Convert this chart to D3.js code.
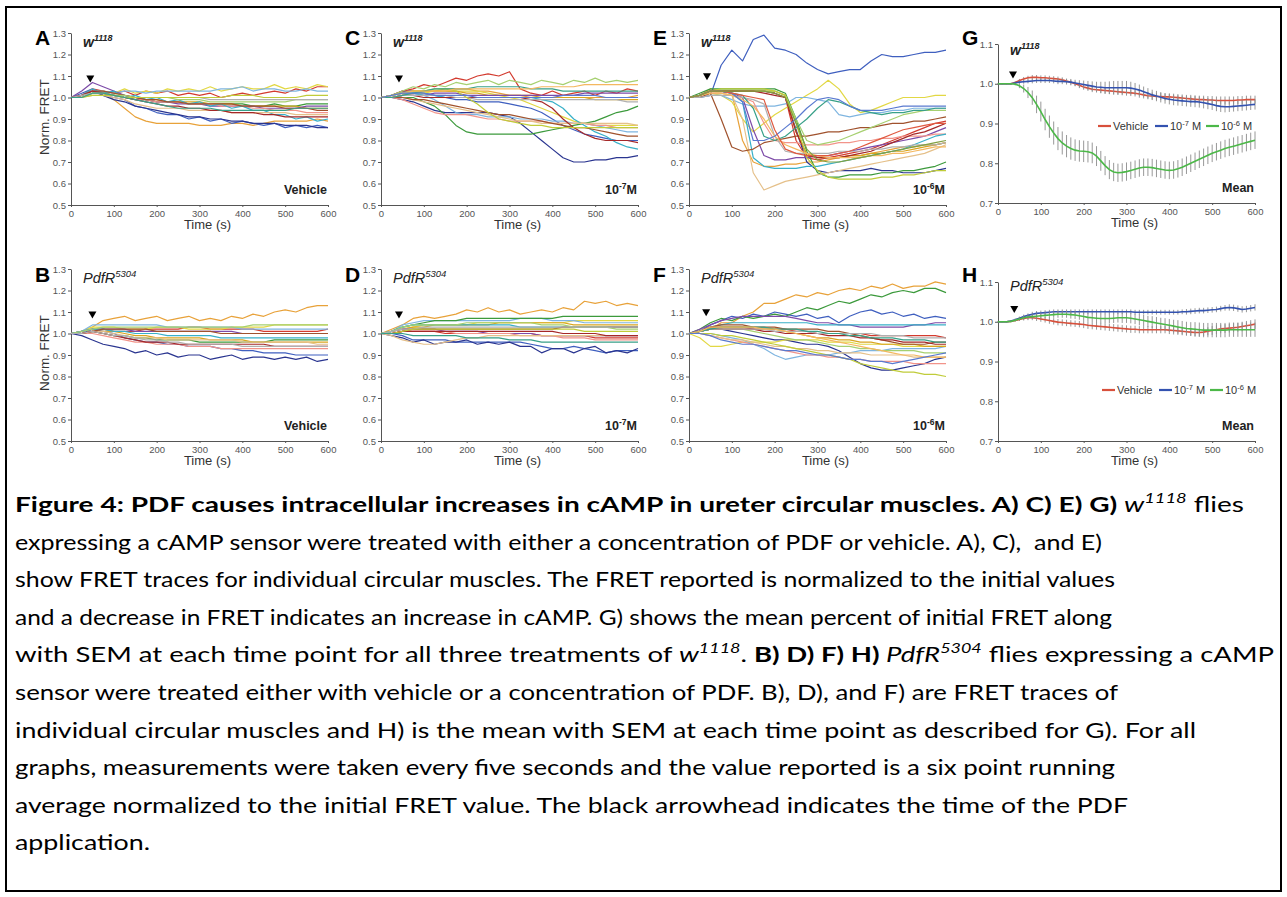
<!DOCTYPE html>
<html>
<head>
<meta charset="utf-8">
<script src="https://cdn.jsdelivr.net/npm/d3@7"></script>
<style>
  body { margin: 0; background: #fff; }
  svg text { font-family: "Liberation Sans", Arial, sans-serif; }
  .cap text { font-family: Lato, "Open Sans", sans-serif; white-space: pre; }
  .ax path, .ax line { stroke: #555; }
  .ax text { fill: #555; font-size: 9.5px; }
</style>
</head>
<body>
<svg id="fig" width="1287" height="897"></svg>
<script>
// sample times (s) of the individual traces and of the mean curves
var traceTimes = d3.range(0, 601, 25);
var meanTimes = d3.range(0, 601, 10);
var xTicks = [0, 100, 200, 300, 400, 500, 600];
var yTicksTrace = [0.5, 0.6, 0.7, 0.8, 0.9, 1.0, 1.1, 1.2, 1.3];
var yTicksMean = [0.7, 0.8, 0.9, 1.0, 1.1];

// individual traces, norm. FRET x100 (w1118, vehicle)
var tracesA = [
  [100,101,103,102,99,95,91,89,88,88,88,88,87,87,87,88,88,87,88,89,89,89,89,90,89],
  [100,102,104,101,100,99,96,95,93,92,92,90,91,89,90,88,89,88,87,88,86,87,86,87,86],
  [100,101,103,101,99,98,96,95,94,93,92,91,91,90,90,89,89,88,88,88,87,87,87,86,86],
  [100,101,104,103,102,103,101,103,102,103,101,102,101,102,100,101,102,101,102,103,102,104,103,105,105],
  [100,100,102,103,102,104,102,103,102,104,103,104,103,105,103,104,105,104,104,106,104,105,104,106,105],
  [100,101,103,103,102,103,103,102,103,103,103,103,103,103,104,104,105,103,104,104,103,103,104,103,103],
  [100,100,102,102,101,100,99,99,98,98,98,97,97,97,97,97,97,96,96,97,96,96,97,97,97],
  [100,100,102,102,101,101,100,99,99,98,98,98,98,97,97,97,96,96,96,96,96,96,95,95,95],
  [100,103,107,105,103,101,100,99,98,98,97,97,97,96,96,96,96,96,95,95,95,95,96,96,96],
  [100,101,103,102,101,100,99,99,98,98,98,97,97,97,96,96,96,95,95,94,94,94,93,93,93],
  [100,101,104,102,103,100,101,99,100,98,99,97,98,96,97,95,96,94,94,92,92,90,91,89,90],
  [100,100,101,101,100,99,97,96,95,95,95,94,94,94,94,93,93,93,93,93,93,92,92,92,92],
  [100,101,103,103,102,101,100,99,99,98,98,97,97,97,97,97,96,96,96,96,95,95,95,94,94],
  [100,100,102,102,101,101,100,100,100,100,99,99,99,98,98,98,98,98,98,98,98,99,99,99,99],
  [100,101,103,102,101,100,99,98,97,96,96,95,95,94,94,93,93,93,92,92,91,91,91,91,91],
  [100,101,102,102,101,100,100,100,100,100,100,100,100,99,99,99,99,99,99,99,99,99,99,99,99],
  [100,100,101,101,101,100,100,100,100,100,100,100,100,100,100,101,101,101,100,100,100,100,101,101,101],
  [100,100,102,102,101,100,99,98,97,96,95,95,95,95,94,94,94,94,94,94,94,95,95,95,95]
];

// w1118, 10^-7 M
var tracesC = [
  [100,101,103,103,103,103,104,104,104,103,103,102,101,101,100,100,100,100,100,100,100,100,100,100,101],
  [100,101,103,103,102,101,100,99,99,98,98,98,97,96,95,93,90,87,85,83,82,81,80,80,80],
  [100,100,99,98,96,94,93,93,93,93,93,92,91,88,84,80,76,72,70,70,71,71,72,72,73],
  [100,101,103,104,106,105,107,109,108,110,111,110,112,104,102,101,103,101,102,103,101,103,102,104,103],
  [100,100,101,102,102,103,103,103,103,103,102,101,100,99,97,95,93,91,89,88,87,87,87,87,87],
  [100,101,102,102,101,99,96,93,92,92,91,91,91,90,90,90,89,89,88,88,87,86,85,84,84],
  [100,100,100,100,98,96,92,87,84,83,83,83,83,83,83,84,85,86,87,88,89,91,93,94,96],
  [100,101,102,103,103,103,103,103,102,102,101,101,101,101,101,100,100,100,100,100,99,99,99,99,99],
  [100,100,101,101,101,102,102,102,101,101,101,101,101,101,101,101,101,101,101,102,102,102,102,102,102],
  [100,100,99,97,95,93,92,92,92,91,90,90,89,89,89,89,88,88,88,88,87,87,86,86,86],
  [100,101,102,102,101,101,100,100,100,100,100,100,100,100,100,99,98,95,90,87,84,82,79,77,76],
  [100,100,100,99,98,97,96,95,94,93,92,91,90,89,89,88,88,88,88,88,88,88,88,88,87],
  [100,100,100,99,99,98,97,96,95,94,93,92,92,91,90,89,88,87,86,86,85,84,83,82,82],
  [100,101,103,105,104,106,105,107,106,107,108,106,108,107,106,108,107,106,108,107,109,107,108,107,108],
  [100,100,101,101,100,100,100,100,100,100,100,100,100,100,99,98,95,90,86,83,81,80,80,80,79],
  [100,100,101,101,101,101,101,100,100,99,99,99,99,99,99,99,99,99,99,99,99,99,99,98,98],
  [100,101,102,103,103,104,104,103,100,97,93,90,89,88,87,87,86,86,86,86,86,86,86,86,86],
  [100,100,101,102,103,104,104,104,104,105,105,105,105,105,104,104,104,103,103,103,103,103,103,103,103],
  [100,101,102,103,103,103,103,104,104,104,104,104,104,104,104,105,105,105,105,106,106,106,106,106,106],
  [100,101,102,102,102,101,101,101,101,100,100,100,100,100,100,100,100,101,101,101,101,100,100,100,100]
];

// w1118, 10^-6 M
var tracesE = [
  [100,101,104,103,102,80,70,68,68,69,69,70,70,71,72,73,73,74,75,76,77,77,78,78,79],
  [100,100,101,115,122,117,127,129,123,122,120,116,113,111,112,113,113,117,120,119,119,120,121,121,122],
  [100,101,103,103,103,103,103,103,102,100,85,70,66,65,66,66,66,67,66,66,65,65,65,66,67],
  [100,101,103,103,103,103,103,103,102,100,80,72,71,72,73,74,75,76,78,80,82,84,86,88,89],
  [100,100,102,101,98,90,84,88,92,95,98,101,104,108,104,97,93,94,96,98,100,100,100,101,101],
  [100,100,101,101,99,97,96,96,96,97,100,100,99,98,92,91,92,93,93,94,94,95,95,95,95],
  [100,102,104,104,104,104,104,104,104,102,90,75,65,63,63,64,64,64,65,65,66,66,67,68,70],
  [100,101,103,103,103,103,103,103,103,101,84,74,72,72,72,73,73,74,74,75,75,76,77,78,79],
  [100,101,103,103,102,100,85,73,71,71,72,72,73,73,74,75,76,77,78,79,80,81,82,84,86],
  [100,101,102,102,101,100,98,88,80,79,79,78,78,78,79,79,80,80,81,81,82,82,82,83,83],
  [100,101,103,103,102,98,72,68,67,67,67,68,68,69,70,71,72,73,74,75,76,78,80,82,83],
  [100,101,103,102,101,90,65,57,59,61,62,63,64,65,66,67,68,69,70,71,72,73,74,76,78],
  [100,100,102,90,77,75,76,79,80,81,82,82,83,84,84,85,86,86,87,88,88,89,89,90,91],
  [100,101,103,103,103,103,103,103,103,101,90,80,78,79,80,82,84,86,88,90,92,93,94,94,94],
  [100,101,103,103,103,103,103,102,101,100,84,73,72,72,72,73,74,75,77,79,81,83,84,86,88],
  [100,100,101,101,101,100,99,97,82,75,74,74,74,74,75,75,75,76,76,77,77,78,78,78,79],
  [100,101,103,104,104,104,104,104,103,101,88,72,66,63,62,62,62,62,63,63,64,64,65,66,66],
  [100,101,103,103,102,101,95,82,80,82,86,90,95,99,98,96,94,93,92,93,93,94,94,95,95],
  [100,101,102,102,101,99,96,90,82,78,76,74,73,72,72,72,72,73,73,74,74,75,76,77,77],
  [100,101,103,103,102,98,80,80,82,86,90,95,99,100,99,96,94,94,94,95,96,96,96,96,96],
  [100,101,103,103,102,101,100,99,85,76,74,73,73,73,74,75,77,79,81,83,85,86,87,88,88],
  [100,101,103,103,103,103,103,103,102,100,88,76,71,70,70,71,72,73,74,75,76,77,78,79,80]
];

// PdfR5304, vehicle
var tracesB = [
  [100,101,103,106,107,108,106,107,108,106,107,108,106,107,106,108,107,109,108,110,111,110,112,113,113],
  [100,100,102,101,100,98,97,96,96,95,95,94,94,94,93,93,92,92,91,91,91,90,90,90,90],
  [100,99,97,95,94,93,91,92,90,91,89,90,90,88,89,90,88,89,89,88,89,88,89,87,88],
  [100,101,102,102,101,101,101,102,102,102,102,103,103,102,102,102,102,102,101,101,101,101,101,101,102],
  [100,101,103,103,103,102,102,102,103,103,103,102,102,102,102,103,103,103,103,104,104,104,104,104,104],
  [100,101,104,104,104,104,104,104,104,103,103,103,103,103,103,103,102,102,102,102,102,102,102,102,102],
  [100,100,101,100,99,99,98,98,97,97,97,97,96,96,96,96,96,96,96,97,97,97,97,97,97],
  [100,100,101,101,101,100,99,99,98,98,98,98,98,97,97,97,97,96,96,96,96,96,96,96,96],
  [100,101,102,102,102,102,101,101,101,101,101,101,101,101,101,101,100,100,100,100,100,100,100,100,100],
  [100,100,100,99,98,97,96,96,95,95,95,94,94,94,93,93,93,93,93,93,93,93,93,93,93],
  [100,101,102,102,101,101,100,100,100,99,99,99,99,99,98,98,98,98,98,98,98,98,98,98,98],
  [100,100,101,101,100,99,98,98,98,97,97,97,97,97,97,97,96,96,96,96,96,96,96,95,95],
  [100,100,101,102,102,102,102,102,101,101,101,101,101,101,100,100,100,100,100,100,100,100,100,100,100],
  [100,101,102,103,103,103,103,103,103,103,103,103,103,103,103,103,103,104,104,104,104,104,104,104,104],
  [100,100,101,100,99,98,97,96,96,96,95,95,95,95,95,95,95,95,95,94,94,94,94,94,94],
  [100,100,101,100,99,99,98,97,97,96,96,95,95,95,95,95,94,94,94,94,94,94,94,94,94]
];

// PdfR5304, 10^-7 M
var tracesD = [
  [100,102,104,107,108,107,108,109,111,110,112,110,111,109,110,111,110,112,111,115,114,115,113,114,113],
  [100,100,99,97,97,97,97,96,96,96,96,96,96,96,95,94,93,93,94,93,92,91,92,92,92],
  [100,99,98,96,97,95,96,96,97,95,96,95,96,94,94,91,93,93,91,93,94,91,92,91,93],
  [100,100,101,101,101,101,100,100,100,100,100,100,100,100,100,99,99,99,99,99,98,98,98,98,98],
  [100,101,102,103,104,104,104,104,104,105,105,105,105,105,105,105,105,105,106,106,106,106,106,106,106],
  [100,101,104,105,106,106,106,106,106,106,106,106,106,107,107,107,106,106,106,105,105,105,105,105,105],
  [100,101,103,104,105,106,106,106,107,107,107,107,107,107,107,107,107,108,108,108,108,108,108,108,108],
  [100,101,102,103,103,104,104,104,104,104,104,105,105,105,105,105,105,105,104,104,104,104,104,104,104],
  [100,101,102,102,102,102,101,101,101,101,100,100,100,100,100,99,99,99,99,99,99,99,99,99,99],
  [100,100,101,101,101,101,101,100,100,100,100,100,100,99,99,99,99,98,98,98,97,97,97,97,97],
  [100,101,103,104,104,104,104,104,104,104,104,104,104,103,103,103,103,103,103,103,103,103,103,103,103],
  [100,99,97,96,95,95,96,97,98,98,99,99,99,99,99,99,99,99,99,99,99,99,99,99,99],
  [100,100,101,102,102,102,102,102,102,102,102,102,102,102,102,102,102,103,103,103,103,103,103,103,103],
  [100,101,103,104,104,104,104,104,105,105,105,105,105,105,105,104,104,104,103,103,103,103,102,102,102],
  [100,100,101,101,101,101,101,101,101,101,101,101,101,101,101,101,101,100,100,100,100,99,99,99,99],
  [100,101,102,102,103,103,103,103,103,103,103,103,103,103,103,103,103,103,103,103,103,103,103,103,103],
  [100,100,101,102,102,102,102,102,102,102,102,102,102,102,102,102,102,102,102,101,101,101,101,101,101],
  [100,100,100,99,99,99,99,99,98,98,98,98,97,97,97,96,96,96,96,96,96,96,96,96,96]
];

// PdfR5304, 10^-6 M
var tracesF = [
  [100,101,102,105,105,108,110,114,114,116,118,117,119,118,120,121,120,122,121,123,121,122,122,124,123],
  [100,101,104,106,108,107,109,108,110,109,108,109,107,108,105,108,110,111,109,110,108,109,107,108,107],
  [100,101,102,102,101,100,99,98,97,97,96,95,95,94,92,89,86,84,83,83,84,85,86,88,89],
  [100,101,103,103,103,103,102,102,102,102,101,101,100,100,100,100,100,99,99,99,99,99,99,99,98],
  [100,98,94,94,95,96,96,96,96,97,97,97,97,96,96,96,95,95,95,95,94,94,94,94,94],
  [100,100,100,99,98,97,95,93,90,88,89,90,90,90,91,91,92,92,92,93,93,93,93,93,94],
  [100,102,105,107,106,108,107,108,109,108,110,112,111,113,115,114,116,118,117,119,120,119,121,121,119],
  [100,101,102,103,103,103,103,102,102,101,100,99,98,98,97,97,96,96,95,95,95,95,94,94,94],
  [100,102,104,106,107,108,108,108,108,108,107,106,105,105,104,104,103,103,103,103,103,104,104,105,105],
  [100,100,99,98,97,96,95,94,93,92,91,90,90,89,89,88,88,87,87,87,87,86,86,86,86],
  [100,101,103,104,105,105,105,105,105,105,105,105,104,104,104,104,104,104,104,104,104,104,104,104,104],
  [100,100,99,98,97,97,96,95,94,94,93,93,92,92,91,91,91,90,90,90,90,89,89,89,89],
  [100,101,103,104,104,104,103,103,103,102,102,102,102,101,101,100,99,98,97,96,95,95,95,96,96],
  [100,101,102,102,102,102,101,100,99,98,97,97,96,95,94,94,93,93,92,92,92,92,91,91,91],
  [100,101,102,102,102,102,102,101,101,100,100,100,100,99,99,99,98,98,97,97,96,96,96,95,95],
  [100,101,102,102,102,102,102,102,101,101,101,101,100,100,100,100,100,100,99,99,99,98,98,98,98],
  [100,100,100,99,99,98,97,96,95,94,93,92,91,90,89,88,86,85,84,83,82,82,81,81,80],
  [100,101,102,103,103,103,103,103,102,102,102,101,101,100,100,99,99,98,98,98,97,97,97,96,96],
  [100,101,103,103,103,103,103,102,102,101,100,99,98,97,96,95,94,93,92,91,90,90,89,89,89],
  [100,100,99,97,96,95,95,94,93,92,92,91,90,90,89,88,88,87,87,86,87,88,89,90,91]
];

// means and SEM, norm. FRET x1000, every 10 s
var meanVehG = [1000,1000,1000,1000,1003,1008,1012,1015,1016,1016,1015,1015,1014,1013,1012,1010,1007,1004,1000,996,992,989,986,985,984,983,982,981,980,979,978,977,976,974,972,970,969,968,968,967,967,966,965,964,963,962,961,960,960,959,959,958,958,958,958,958,959,959,960,960,960];
var semVehG = [1,1,1,2,3,4,5,5,6,6,6,6,6,6,6,6,6,6,6,7,7,7,7,7,8,8,8,8,8,8,8,8,8,9,9,9,9,9,9,9,9,9,9,9,9,10,10,10,10,10,10,10,10,10,10,10,10,10,10,10,10];
var mean7G = [1000,1000,1000,1000,1002,1004,1005,1006,1007,1008,1008,1008,1008,1007,1006,1006,1005,1004,1002,1000,998,996,994,992,991,990,990,990,990,990,990,989,987,984,980,976,972,969,966,963,961,959,958,957,956,955,955,954,952,950,948,945,943,942,942,943,944,945,946,947,948];
var sem7G = [1,1,1,2,3,4,5,5,6,6,6,6,6,6,7,7,7,8,8,9,10,11,12,13,14,15,16,17,17,17,17,16,15,14,13,13,13,13,13,13,13,13,13,13,13,13,14,14,14,14,14,14,14,14,13,13,13,13,13,13,13];
var mean6G = [1000,1000,1000,1000,999,995,988,978,965,948,930,910,892,876,862,851,843,837,833,831,830,829,826,818,806,794,784,778,776,777,779,782,785,788,790,790,789,787,785,783,782,783,786,790,795,800,805,810,815,820,825,829,833,837,840,843,846,849,852,855,858];
var sem6G = [1,1,1,2,3,6,10,14,18,22,25,27,28,29,29,29,28,28,27,27,27,27,26,25,25,24,24,23,23,23,23,22,22,22,22,22,22,22,22,22,22,22,22,22,22,22,22,22,22,22,22,22,22,22,22,22,22,22,22,22,22];

var meanVehH = [1000,1000,1000,1001,1003,1006,1008,1010,1010,1009,1007,1005,1003,1001,999,998,997,996,995,994,993,991,990,989,988,987,986,985,984,983,982,981,981,980,980,980,980,980,980,980,979,978,977,976,975,974,973,973,974,976,978,980,982,983,984,985,986,988,990,992,994];
var semVehH = [1,1,1,2,3,4,5,6,6,7,7,7,8,8,8,8,8,8,8,8,9,9,9,9,9,9,9,9,9,9,9,9,9,9,9,9,9,9,9,9,10,10,10,10,10,10,10,10,10,10,11,11,11,11,11,11,11,12,12,12,12];
var mean7H = [1000,1000,1000,1002,1005,1009,1013,1016,1019,1021,1022,1023,1024,1025,1025,1025,1025,1025,1025,1025,1025,1025,1025,1025,1025,1025,1025,1025,1025,1025,1025,1025,1024,1024,1024,1024,1024,1024,1024,1024,1024,1024,1024,1025,1025,1026,1027,1028,1028,1029,1030,1031,1033,1035,1036,1035,1033,1031,1032,1034,1036];
var sem7H = [1,1,1,2,3,4,5,5,6,6,6,6,6,6,6,6,6,6,6,6,6,6,6,6,6,6,6,6,6,6,6,6,6,6,6,6,6,6,6,6,6,6,6,6,7,7,7,7,7,7,7,7,7,7,8,8,8,8,8,8,8];
var mean6H = [1000,1000,1000,1001,1004,1007,1010,1012,1013,1014,1015,1016,1017,1018,1019,1019,1019,1018,1017,1015,1013,1011,1010,1009,1008,1008,1008,1009,1010,1010,1010,1009,1007,1005,1003,1001,999,997,995,993,991,989,987,985,983,982,981,980,979,979,979,979,979,979,980,980,980,980,980,980,980];
var sem6H = [1,1,1,2,3,4,5,6,6,7,7,8,8,8,9,9,9,10,10,10,11,11,11,12,12,12,12,12,12,13,13,13,13,14,14,14,15,15,15,16,16,16,17,17,17,17,18,18,18,18,18,18,18,18,18,18,18,18,18,18,18];

var meanLegend = ['Vehicle', '10|-7| M', '10|-6| M'];

// line colours
var palette = ['#e8a23a','#3f5fbf','#2a3590','#d33b2f','#e2d844','#7fb5e0','#3c9a3c','#d9a520',
  '#7d4ba8','#f2948a','#38b0c8','#e5c08a','#a0522d','#a6d070','#a52828','#b0b0b0',
  '#c0cc3a','#38a088','#f4b860','#5a7ad0','#e05a40','#80a040'];
var meanColors = ['#d8503c', '#3352b0', '#4cb848'];

var svg = d3.select('#fig');

svg.append('rect').attr('x', 6).attr('y', 7).attr('width', 1275).attr('height', 884)
  .attr('fill', 'none').attr('stroke', '#000').attr('stroke-width', 2);

// text with "|" delimited superscript parts: "10|-7|M"
function supText(t, str, supSize, rise) {
  str.split('|').forEach(function(s, i) {
    if (!s) return;
    var sp = t.append('tspan').text(s);
    if (i % 2 == 1) sp.attr('font-size', supSize).attr('dy', -rise);
    else if (i > 0) sp.attr('dy', rise);
  });
  return t;
}

var rows = [{letterY: 45}, {letterY: 282}];

var panels = [
  {id:'A', row:0, x:71,  top:33,  bottom:205, traces:tracesA, geno:'w', cond:'Vehicle', arrowT:45, arrowV:1.07, ylab:true},
  {id:'C', row:0, x:381, top:33,  bottom:205, traces:tracesC, geno:'w', cond:'10|-7|M', arrowT:42, arrowV:1.07},
  {id:'E', row:0, x:689, top:33,  bottom:205, traces:tracesE, geno:'w', cond:'10|-6|M', arrowT:42, arrowV:1.08},
  {id:'G', row:0, x:998, top:44,  bottom:203, means:[[meanVehG,semVehG],[mean7G,sem7G],[mean6G,sem6G]], geno:'w', cond:'Mean', arrowT:35, arrowV:1.013, legendX:1098, legendY:126},
  {id:'B', row:1, x:71,  top:269, bottom:441, traces:tracesB, geno:'p', cond:'Vehicle', arrowT:50, arrowV:1.07, ylab:true},
  {id:'D', row:1, x:381, top:269, bottom:441, traces:tracesD, geno:'p', cond:'10|-7|M', arrowT:42, arrowV:1.07},
  {id:'F', row:1, x:689, top:269, bottom:441, traces:tracesF, geno:'p', cond:'10|-6|M', arrowT:40, arrowV:1.08},
  {id:'H', row:1, x:998, top:282, bottom:441, means:[[meanVehH,semVehH],[mean7H,sem7H],[mean6H,sem6H]], geno:'p', cond:'Mean', arrowT:38, arrowV:1.022, legendX:1102, legendY:390}
];

panels.forEach(function(p) {
  var isMean = !!p.means;
  var x = d3.scaleLinear().domain([0, 600]).range([p.x, p.x + 257]);
  var y = d3.scaleLinear().domain(isMean ? [0.7, 1.1] : [0.5, 1.3]).range([p.bottom, p.top]);
  var g = svg.append('g');

  g.append('g').attr('class', 'ax').attr('transform', 'translate(0,' + p.bottom + ')')
    .call(d3.axisBottom(x).tickValues(xTicks).tickSize(2).tickSizeOuter(0).tickPadding(3));
  g.append('g').attr('class', 'ax').attr('transform', 'translate(' + p.x + ',0)')
    .call(d3.axisLeft(y).tickValues(isMean ? yTicksMean : yTicksTrace)
      .tickFormat(d3.format('.1f')).tickSize(3).tickSizeOuter(0).tickPadding(2));

  if (!isMean) {
    var line = d3.line()
      .x(function(d, i) { return x(traceTimes[i]); })
      .y(function(d) { return y(d / 100); });
    p.traces.forEach(function(tr, i) {
      g.append('path').datum(tr).attr('d', line)
        .attr('fill', 'none').attr('stroke', palette[i % palette.length])
        .attr('stroke-width', 1.2).attr('stroke-linejoin', 'round');
    });
  } else {
    var mline = d3.line()
      .x(function(d, i) { return x(meanTimes[i]); })
      .y(function(d) { return y(d / 1000); });
    p.means.forEach(function(ms, k) {
      g.append('g').selectAll('line').data(ms[0]).enter().append('line')
        .attr('x1', function(d, i) { return x(meanTimes[i]); })
        .attr('x2', function(d, i) { return x(meanTimes[i]); })
        .attr('y1', function(d, i) { return y((d - ms[1][i]) / 1000); })
        .attr('y2', function(d, i) { return y((d + ms[1][i]) / 1000); })
        .attr('stroke', '#8c8c8c').attr('stroke-width', 0.9);
      g.append('path').datum(ms[0]).attr('d', mline)
        .attr('fill', 'none').attr('stroke', meanColors[k]).attr('stroke-width', 1.6);
    });
    // legend
    var lg = g.append('g');
    meanLegend.forEach(function(lab, k) {
      var lx = p.legendX + [0, 57, 108][k];
      lg.append('line').attr('x1', lx).attr('x2', lx + 13)
        .attr('y1', p.legendY).attr('y2', p.legendY)
        .attr('stroke', meanColors[k]).attr('stroke-width', 2.2);
      supText(lg.append('text').attr('x', lx + 15).attr('y', p.legendY + 4)
        .attr('font-size', 11).attr('fill', '#333'), lab, 7.5, 4);
    });
  }

  // arrowhead at PDF application
  var ax = x(p.arrowT), ay = y(p.arrowV);
  g.append('path').attr('d', 'M' + (ax - 4) + ',' + (ay - 7) + 'L' + (ax + 4) + ',' + (ay - 7) + 'L' + ax + ',' + ay + 'Z')
    .attr('fill', '#000');

  // panel letter
  g.append('text').attr('x', p.x - 36).attr('y', rows[p.row].letterY)
    .attr('font-size', 21).attr('font-weight', 'bold').text(p.id);

  // genotype
  var gy = isMean ? (p.row == 0 ? 55 : 291) : p.top + 14;
  var gt = g.append('text').attr('x', p.x + 12).attr('y', gy).attr('fill', '#222');
  if (p.geno == 'w') {
    gt.attr('font-weight', 'bold').attr('font-style', 'italic').attr('font-size', 14);
    supText(gt, 'w|1118|', 9, 6);
  } else {
    gt.attr('font-style', 'italic').attr('font-size', 14.5);
    supText(gt, 'PdfR|5304|', 9.5, 6);
  }

  // condition label
  supText(g.append('text').attr('x', p.x + 256).attr('y', p.bottom - 11)
    .attr('text-anchor', 'end').attr('font-size', 12.5).attr('font-weight', 'bold').attr('fill', '#222'),
    p.cond, 8.5, 5);

  // x axis title
  g.append('text').attr('x', x(300) + 8).attr('y', p.bottom + 24)
    .attr('text-anchor', 'middle').attr('font-size', 13).attr('fill', '#333').text('Time (s)');

  if (p.ylab) {
    var cy = (p.top + p.bottom) / 2 - 2;
    g.append('text').attr('transform', 'translate(49,' + cy + ') rotate(-90)')
      .attr('text-anchor', 'middle').attr('font-size', 13.5).attr('fill', '#333').text('Norm. FRET');
  }
});

// caption
var captionLines = [
  [['b', 'Figure 4: PDF causes intracellular increases in cAMP in ureter circular muscles. A) C) E) G) '], ['i', 'w'], ['s', '1118'], ['n', ' flies']],
  [['n', 'expressing a cAMP sensor were treated with either a concentration of PDF or vehicle. A), C),  and E)']],
  [['n', 'show FRET traces for individual circular muscles. The FRET reported is normalized to the initial values']],
  [['n', 'and a decrease in FRET indicates an increase in cAMP. G) shows the mean percent of initial FRET along']],
  [['n', 'with SEM at each time point for all three treatments of '], ['i', 'w'], ['s', '1118'], ['n', '. '], ['b', 'B) D) F) H) '], ['i', 'PdfR'], ['s', '5304'], ['n', ' flies expressing a cAMP']],
  [['n', 'sensor were treated either with vehicle or a concentration of PDF. B), D), and F) are FRET traces of']],
  [['n', 'individual circular muscles and H) is the mean with SEM at each time point as described for G). For all']],
  [['n', 'graphs, measurements were taken every five seconds and the value reported is a six point running']],
  [['n', 'average normalized to the initial FRET value. The black arrowhead indicates the time of the PDF']],
  [['n', 'application.']]
];
var captionEnds = [1244, 1102, 1115, 1112, 1274, 1118, 1196, 1115, 1128, 150];

var cap = svg.append('g').attr('class', 'cap');
captionLines.forEach(function(segs, li) {
  var t = cap.append('text').attr('x', 15).attr('y', 512 + li * 37.6)
    .attr('font-size', 21.5).attr('fill', '#000');
  var raised = false;
  segs.forEach(function(s) {
    var sp = t.append('tspan').text(s[1]);
    if (s[0] == 'b') sp.attr('font-weight', 'bold');
    if (s[0] == 'i' || s[0] == 's') sp.attr('font-style', 'italic');
    if (s[0] == 's') { sp.attr('font-size', 14).attr('dy', -9); raised = true; }
    else if (raised) { sp.attr('dy', 9); raised = false; }
  });
  t.attr('textLength', captionEnds[li] - 15).attr('lengthAdjust', 'spacingAndGlyphs');
});
</script>
</body>
</html>
